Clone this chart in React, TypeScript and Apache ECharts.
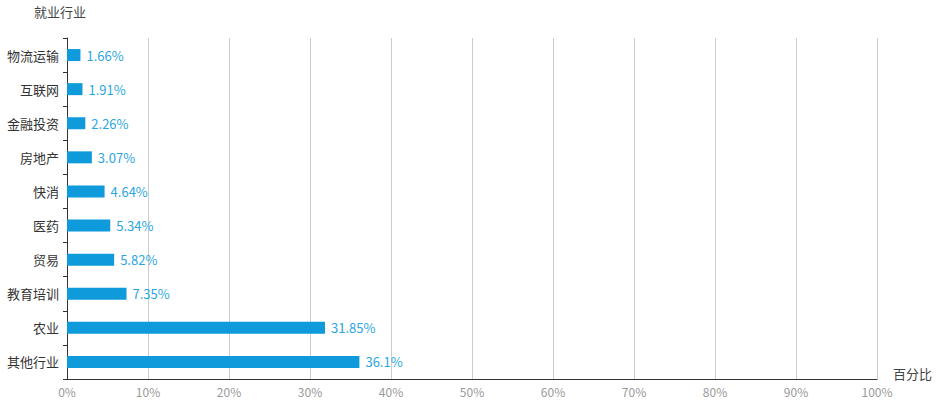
import React, { useEffect, useRef } from "react";
import * as echarts from "echarts";

const categories = ["其他行业", "农业", "教育培训", "贸易", "医药", "快消", "房地产", "金融投资", "互联网", "物流运输"];
const values = [36.1, 31.85, 7.35, 5.82, 5.34, 4.64, 3.07, 2.26, 1.91, 1.66];
const xTicks = [0, 10, 20, 30, 40, 50, 60, 70, 80, 90, 100];

export default function App() {
  const ref = useRef<HTMLDivElement>(null);
  useEffect(() => {
    const chart = echarts.init(ref.current!, null, { renderer: "svg" });
    const font = "'Noto Sans CJK SC', 'Microsoft YaHei', sans-serif";
    chart.setOption({
      animation: false,
      textStyle: { fontFamily: font },
      grid: { left: 67, right: 60, top: 38, bottom: 23, containLabel: false },
      xAxis: {
        type: "value",
        min: xTicks[0],
        max: xTicks[xTicks.length - 1],
        interval: 10,
        name: "百分比",
        nameLocation: "end",
        nameGap: 16,
        nameTextStyle: { color: "#444", fontSize: 13, fontFamily: font, verticalAlign: "top", padding: [-12, 0, 0, 0] },
        axisLine: { show: true, lineStyle: { color: "#333", width: 1 } },
        axisTick: { show: false },
        axisLabel: { color: "#999", fontSize: 12, formatter: "{value}%", margin: 6, fontFamily: font },
        splitLine: { show: true, lineStyle: { color: "#ccc", width: 1 } },
      },
      yAxis: {
        type: "category",
        data: categories,
        name: "就业行业",
        nameLocation: "end",
        nameGap: 20,
        nameTextStyle: { color: "#444", fontSize: 13, fontFamily: font, padding: [0, 14, 0, 0] },
        axisLine: { show: true, lineStyle: { color: "#333", width: 1 } },
        axisTick: { show: true, length: 4, lineStyle: { color: "#333" } },
        axisLabel: { color: "#333", fontSize: 13, margin: 8, fontFamily: font },
        splitLine: { show: false },
      },
      series: [
        {
          type: "bar",
          data: values,
          barWidth: 12,
          itemStyle: { color: "#0F9ADB" },
          label: {
            show: true,
            position: "right",
            distance: 6,
            formatter: "{c}%",
            color: "#2BA6DF",
            fontSize: 13,
            fontFamily: font,
          },
        },
      ],
    });
    return () => chart.dispose();
  }, []);
  return <div ref={ref} style={{ width: 937, height: 402, position: "absolute", left: 0, top: 0 }} />;
}
